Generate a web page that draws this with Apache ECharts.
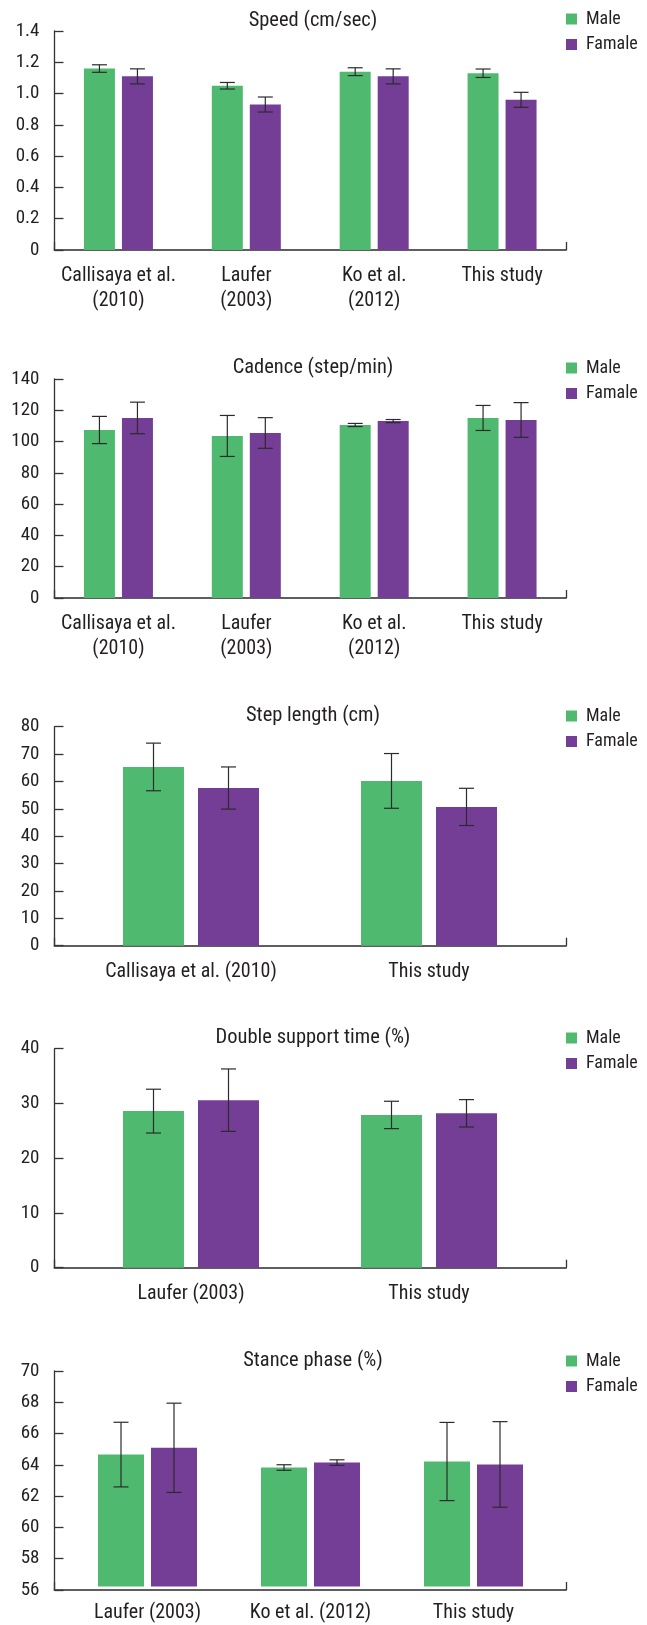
<!DOCTYPE html>
<html><head><meta charset="utf-8">
<script src="https://cdn.jsdelivr.net/npm/echarts@6/dist/echarts.min.js"></script>
<style>html,body{margin:0;padding:0;background:#fff}#c{width:647px;height:1625px}</style>
</head><body><div id="c"></div>
<script>
// ---------- DATA ----------
const seriesNames = ['Male', 'Famale'];

const speedTitle = 'Speed (cm/sec)';
const speedCats = ['Callisaya et al.\n(2010)', 'Laufer\n(2003)', 'Ko et al.\n(2012)', 'This study'];
const speedMale = [1.16, 1.05, 1.14, 1.13];
const speedMaleSD = [0.024, 0.021, 0.025, 0.027];
const speedFemale = [1.11, 0.93, 1.11, 0.96];
const speedFemaleSD = [0.048, 0.048, 0.048, 0.048];
const speedTicks = ['0', '0.2', '0.4', '0.6', '0.8', '1.0', '1.2', '1.4'];

const cadenceTitle = 'Cadence (step/min)';
const cadenceCats = ['Callisaya et al.\n(2010)', 'Laufer\n(2003)', 'Ko et al.\n(2012)', 'This study'];
const cadenceMale = [107.4, 103.6, 110.6, 115.1];
const cadenceMaleSD = [8.7, 13.1, 1.0, 8.0];
const cadenceFemale = [115.1, 105.5, 113.1, 113.8];
const cadenceFemaleSD = [10.1, 9.8, 1.0, 11.1];
const cadenceTicks = ['0', '20', '40', '60', '80', '100', '120', '140'];

const stepTitle = 'Step length (cm)';
const stepCats = ['Callisaya et al. (2010)', 'This study'];
const stepMale = [65.3, 60.2];
const stepMaleSD = [8.7, 10.0];
const stepFemale = [57.6, 50.7];
const stepFemaleSD = [7.7, 6.8];
const stepTicks = ['0', '10', '20', '30', '40', '50', '60', '70', '80'];

const dstTitle = 'Double support time (%)';
const dstCats = ['Laufer (2003)', 'This study'];
const dstMale = [28.6, 27.9];
const dstMaleSD = [4.0, 2.5];
const dstFemale = [30.6, 28.2];
const dstFemaleSD = [5.7, 2.5];
const dstTicks = ['0', '10', '20', '30', '40'];

const stanceTitle = 'Stance phase (%)';
const stanceCats = ['Laufer (2003)', 'Ko et al. (2012)', 'This study'];
const stanceMale = [64.57, 63.73, 64.12];
const stanceMaleSD = [2.1, 0.18, 2.54];
const stanceFemale = [65.01, 64.05, 63.93];
const stanceFemaleSD = [2.9, 0.18, 2.78];
const stanceTicks = ['56', '58', '60', '62', '64', '66', '68', '70'];

// ---------- LAYOUT / STYLE ----------
const FONT = '"Liberation Sans Narrow", "Roboto Condensed", "Liberation Sans", sans-serif';
const TXT = '#231f20';
const GREEN = '#4fba6f';
const PURPLE = '#743e97';

const panels = [
  {title: speedTitle, cats: speedCats, m: speedMale, ms: speedMaleSD, f: speedFemale, fs: speedFemaleSD, ticks: speedTicks,
   top: 31, titleY: 20.7, legY: 19, barLeft: 54.5, barSpan: 511.5, bw: 31, gap: 7},
  {title: cadenceTitle, cats: cadenceCats, m: cadenceMale, ms: cadenceMaleSD, f: cadenceFemale, fs: cadenceFemaleSD, ticks: cadenceTicks,
   top: 379, titleY: 368.3, legY: 368, barLeft: 54.5, barSpan: 511.5, bw: 31, gap: 7},
  {title: stepTitle, cats: stepCats, m: stepMale, ms: stepMaleSD, f: stepFemale, fs: stepFemaleSD, ticks: stepTicks,
   top: 726.7, titleY: 716, legY: 716, barLeft: 72, barSpan: 476, bw: 61, gap: 14},
  {title: dstTitle, cats: dstCats, m: dstMale, ms: dstMaleSD, f: dstFemale, fs: dstFemaleSD, ticks: dstTicks,
   top: 1048.7, titleY: 1038.3, legY: 1038, barLeft: 72, barSpan: 476, bw: 61, gap: 14},
  {title: stanceTitle, cats: stanceCats, m: stanceMale, ms: stanceMaleSD, f: stanceFemale, fs: stanceFemaleSD, ticks: stanceTicks,
   top: 1371, titleY: 1361, legY: 1361, barLeft: 66, barSpan: 489, bw: 46, gap: 7}
];
const PLOT_H = 219;
const AX_LEFT = 54.5, AX_W = 511.5;

function errSeries(idx, means, sds, dx) {
  return {
    type: 'custom', xAxisIndex: idx, yAxisIndex: idx, z: 5, silent: true,
    data: means.map((v, j) => [j, v, sds[j]]),
    encode: {x: 0, y: 1},
    renderItem(params, api) {
      const j = api.value(0), v = api.value(1), s = api.value(2);
      const t = api.coord([j, v + s]);
      const b = api.coord([j, v - s]);
      const x = t[0] + dx, hw = 7.5;
      const st = {stroke: '#2b2b2b', lineWidth: 1.2};
      return {type: 'group', children: [
        {type: 'line', shape: {x1: x, y1: t[1], x2: x, y2: b[1]}, style: st},
        {type: 'line', shape: {x1: x - hw, y1: t[1], x2: x + hw, y2: t[1]}, style: st},
        {type: 'line', shape: {x1: x - hw, y1: b[1], x2: x + hw, y2: b[1]}, style: st}
      ]};
    }
  };
}

const option = {animation: false, backgroundColor: '#fff', textStyle: {fontFamily: FONT, color: TXT},
  grid: [], xAxis: [], yAxis: [], series: [], title: [], legend: []};

panels.forEach((p, i) => {
  const a = 2 * i, b = 2 * i + 1;
  const vals = p.ticks.map(Number);
  const yMin = vals[0], yMax = vals[vals.length - 1];
  const yInt = (yMax - yMin) / (vals.length - 1);
  option.grid.push({left: AX_LEFT, width: AX_W, top: p.top, height: PLOT_H, containLabel: false});
  option.grid.push({left: p.barLeft, width: p.barSpan, top: p.top, height: PLOT_H, containLabel: false});
  option.xAxis.push({gridIndex: a, type: 'value', min: 0, max: 1, interval: 1,
    axisLine: {show: true, onZero: false, lineStyle: {color: '#5e5e5e', width: 2}},
    axisTick: {show: true, inside: true, length: 8, lineStyle: {color: '#333', width: 1.3}},
    axisLabel: {show: false}, splitLine: {show: false}});
  option.xAxis.push({gridIndex: b, type: 'category', data: p.cats,
    axisLine: {show: false}, axisTick: {show: false}, splitLine: {show: false},
    axisLabel: {interval: 0, fontSize: 20, lineHeight: 25, margin: 13.5, color: TXT, fontFamily: FONT}});
  option.yAxis.push({gridIndex: a, type: 'value', min: yMin, max: yMax, interval: yInt,
    axisLine: {show: true, onZero: false, lineStyle: {color: '#333', width: 1.3}},
    axisTick: {show: true, inside: true, length: 9, lineStyle: {color: '#333', width: 1.3}},
    splitLine: {show: false},
    axisLabel: {fontSize: 19, margin: 15, color: TXT, fontFamily: FONT,
      formatter: (v, k) => p.ticks[k] !== undefined ? p.ticks[k] : String(v)}});
  option.yAxis.push({gridIndex: b, type: 'value', min: yMin, max: yMax, interval: yInt, show: false});
  const gapPct = (p.gap / p.bw * 100).toFixed(1) + '%';
  option.series.push({type: 'bar', name: seriesNames[0], xAxisIndex: b, yAxisIndex: b, data: p.m,
    barWidth: p.bw, barGap: gapPct, clip: true, itemStyle: {color: GREEN}});
  option.series.push({type: 'bar', name: seriesNames[1], xAxisIndex: b, yAxisIndex: b, data: p.f,
    barWidth: p.bw, barGap: gapPct, clip: true, itemStyle: {color: PURPLE}});
  const dx = (p.bw + p.gap) / 2;
  option.series.push(errSeries(b, p.m, p.ms, -dx));
  option.series.push(errSeries(b, p.f, p.fs, dx));
  option.title.push({text: p.title, left: 313, top: p.titleY - 10.5, textAlign: 'center', padding: 0,
    textStyle: {fontSize: 20.5, lineHeight: 21, fontWeight: 'normal', color: TXT, fontFamily: FONT}});
  option.legend.push({orient: 'vertical', left: 566, top: p.legY - 9.5, padding: 0,
    itemWidth: 11, itemHeight: 11, itemGap: 6.5, icon: 'rect', selectedMode: false,
    data: seriesNames,
    textStyle: {fontSize: 18, lineHeight: 19, color: TXT, fontFamily: FONT, padding: [0, 0, 0, 4]}});
});

const chart = echarts.init(document.getElementById('c'), null, {renderer: 'canvas', width: 647, height: 1625});
chart.setOption(option);
</script>
</body></html>
